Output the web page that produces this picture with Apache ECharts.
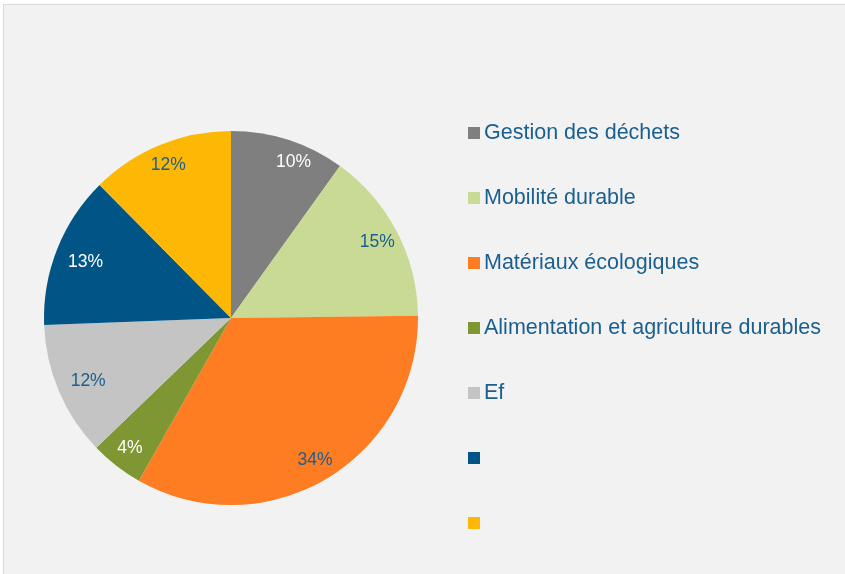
<!DOCTYPE html>
<html>
<head>
<meta charset="utf-8">
<script src="https://cdn.jsdelivr.net/npm/echarts@6/dist/echarts.min.js"></script>
<style>
  html, body { margin: 0; padding: 0; background: #ffffff; }
  #box { position: absolute; left: 3px; top: 4px; width: 850px; height: 580px;
         background: #f2f2f2; border: 1px solid #d9d9d9; }
  #chart { position: absolute; left: -4px; top: -5px; width: 845px; height: 574px; }
</style>
</head>
<body>
<div id="box"><div id="chart"></div></div>
<script>
// categories, shares and the printed percentages
let names = ['Gestion des déchets', 'Mobilité durable', 'Matériaux écologiques',
             'Alimentation et agriculture durables', 'Ef', ' ', '  ']
let values = [9.9, 14.9, 33.4, 4.6, 11.6, 13.2, 12.4]
let pctLabels = ['10%', '15%', '34%', '4%', '12%', '13%', '12%']
let colors = ['#7f7f7f', '#c9da94', '#fe7d22', '#7e9733', '#c4c4c4', '#005586', '#fdb705']
let labelColors = ['#ffffff', '#1b5f8f', '#1b5f8f', '#ffffff', '#1b5f8f', '#ffffff', '#1b5f8f']

let myChart = echarts.init(document.getElementById('chart'))

let pieData = []
let labelData = []
for (let i in names) {
    pieData.push({ name: names[i], value: values[i], itemStyle: { color: colors[i] } })
    labelData.push({
        name: names[i],
        value: values[i],
        label: { color: labelColors[i], formatter: pctLabels[i] }
    })
}

// small nudges so the labels sit where the original tool put them
let nudge = { 0: [12, 1], 4: [9, -1], 5: [8, 5] }

let option = {
    animation: false,
    backgroundColor: 'transparent',
    legend: {
        orient: 'vertical',
        left: 463,
        top: 117,
        itemWidth: 12,
        itemHeight: 12,
        itemGap: 43,
        icon: 'rect',
        selectedMode: false,
        data: names,
        textStyle: {
            color: '#1b5f8f',
            fontSize: 21.5,
            fontFamily: 'Liberation Sans, Arial, sans-serif',
            lineHeight: 20,
            padding: [0, 0, 0, -1]
        }
    },
    series: [
        {
            type: 'pie',
            center: [231, 318],
            radius: [0, 187],
            startAngle: 90,
            clockwise: true,
            silent: true,
            label: { show: false },
            labelLine: { show: false },
            itemStyle: { borderWidth: 0 },
            data: pieData
        },
        {
            // transparent ring only to place the percentage labels near the rim
            type: 'pie',
            center: [231, 318],
            radius: [137, 187],
            startAngle: 90,
            clockwise: true,
            silent: true,
            legendHoverLink: false,
            itemStyle: { color: 'rgba(0,0,0,0)', borderWidth: 0 },
            label: {
                show: true,
                position: 'inside',
                fontSize: 17.5,
                fontFamily: 'Liberation Sans, Arial, sans-serif'
            },
            labelLayout: function (p) {
                let n = nudge[p.dataIndex]
                return n ? { dx: n[0], dy: n[1] } : {}
            },
            labelLine: { show: false },
            data: labelData
        }
    ]
}

myChart.setOption(option)
</script>
</body>
</html>
